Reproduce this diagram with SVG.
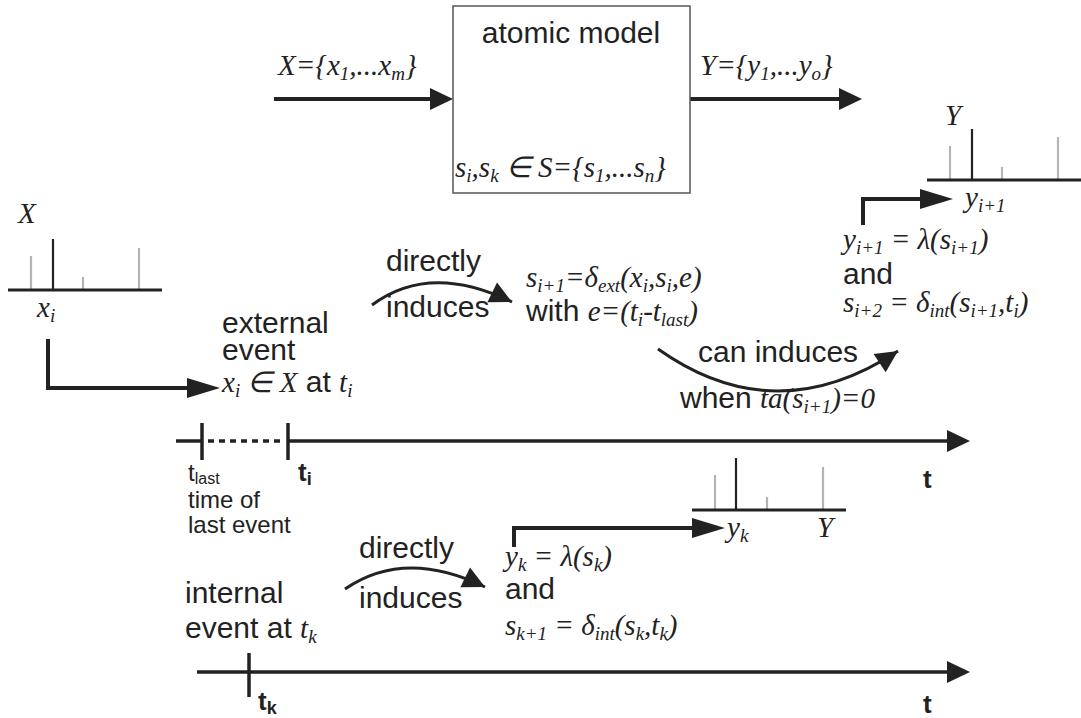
<svg xmlns="http://www.w3.org/2000/svg" width="1081" height="718" viewBox="0 0 1081 718">
<style>
.a{font-family:"Liberation Sans",Arial,sans-serif;font-size:30px;fill:#222}
.m{font-family:"Liberation Serif","Times New Roman",serif;font-style:italic;font-size:29px;fill:#222}
.sb{font-size:19px}
.sm{font-family:"Liberation Sans",Arial,sans-serif;font-size:24px;fill:#222}
.sm2{font-size:16px}
.b{font-family:"Liberation Sans",Arial,sans-serif;font-weight:bold;font-size:26px;fill:#222}
.bs{font-size:18px}
.ln{fill:none;stroke:#222;stroke-width:4}
.tl{fill:none;stroke:#222;stroke-width:3.5}
.arc{fill:none;stroke:#222;stroke-width:3}
.ax{stroke:#222;stroke-width:3}
.sk{stroke:#222;stroke-width:2.2}
.gs{stroke:#b4b4b4;stroke-width:2.2}
</style>
<defs>
<marker id="ah" markerUnits="userSpaceOnUse" markerWidth="24" markerHeight="22" refX="13" refY="11" orient="auto" overflow="visible"><path d="M0,0 L23,11 L0,22 z" fill="#222"/></marker>
<marker id="ahl" markerUnits="userSpaceOnUse" markerWidth="34" markerHeight="20" refX="23" refY="10" orient="auto" overflow="visible"><path d="M0,0 L33,10 L0,20 z" fill="#222"/></marker>
<marker id="ahc" markerUnits="userSpaceOnUse" markerWidth="24" markerHeight="24" refX="22" refY="11" orient="auto" overflow="visible"><path d="M0,0 L22,11 L0,22 z" fill="#222"/></marker>
</defs>
<rect width="1081" height="718" fill="#fff"/>

<g id="connectors">
<path class="ln" d="M274,99 L443,99" marker-end="url(#ah)"/>
<path class="ln" d="M690,99 L852,99" marker-end="url(#ah)"/>
<path class="ln" d="M48,339 L48,388 L210,388" marker-end="url(#ahl)"/>
<path class="ln" d="M863,225 L863,199 L943,199" marker-end="url(#ahl)"/>
<path class="ln" d="M514,547 L514,528 L715,528" marker-end="url(#ahl)"/>
<path class="arc" d="M372,305 Q430,262 512,302" marker-end="url(#ahc)"/>
<path class="arc" d="M345,589 Q405,548 485,587" marker-end="url(#ahc)"/>
<path class="arc" d="M658,349 Q775,432 898,351" marker-end="url(#ahc)"/>
</g>

<g id="atomic-model">
<rect x="453" y="6" width="237" height="187" fill="#fff" stroke="#555" stroke-width="1.5"/>
<text class="a" x="571" y="43" text-anchor="middle">atomic model</text>
<text class="m" x="455" y="177">s<tspan class="sb" dy="5">i</tspan><tspan dy="-5">,s</tspan><tspan class="sb" dy="5">k</tspan><tspan dy="-5"> ∈ S={s</tspan><tspan class="sb" dy="5">1</tspan><tspan dy="-5">,...s</tspan><tspan class="sb" dy="5">n</tspan><tspan dy="-5">}</tspan></text>
</g>

<g id="input-label">
<text class="m" x="278" y="75">X={x<tspan class="sb" dy="5">1</tspan><tspan dy="-5">,...x</tspan><tspan class="sb" dy="5">m</tspan><tspan dy="-5">}</tspan></text>
</g>
<g id="output-label">
<text class="m" x="700" y="75">Y={y<tspan class="sb" dy="5">1</tspan><tspan dy="-5">,...y</tspan><tspan class="sb" dy="5">o</tspan><tspan dy="-5">}</tspan></text>
</g>

<g id="x-plot">
<text class="m" x="18" y="223">X</text>
<line class="gs" x1="31" y1="256" x2="31" y2="290"/>
<line class="sk" x1="53" y1="239" x2="53" y2="290"/>
<line class="gs" x1="83" y1="277" x2="83" y2="290"/>
<line class="gs" x1="139" y1="248" x2="139" y2="290"/>
<line class="ax" x1="8" y1="290" x2="162" y2="290"/>
<text class="m" x="37" y="317">x<tspan class="sb" dy="5">i</tspan></text>
</g>

<g id="y-plot-top">
<text class="m" x="945" y="125">Y</text>
<line class="gs" x1="950" y1="146" x2="950" y2="180"/>
<line class="sk" x1="972" y1="129" x2="972" y2="180"/>
<line class="gs" x1="1002" y1="167" x2="1002" y2="180"/>
<line class="gs" x1="1058" y1="137" x2="1058" y2="180"/>
<line class="ax" x1="927" y1="180" x2="1081" y2="180"/>
<text class="m" x="965" y="207">y<tspan class="sb" dy="5">i+1</tspan></text>
</g>

<g id="y-plot-bottom">
<line class="gs" x1="715" y1="475" x2="715" y2="510"/>
<line class="sk" x1="736" y1="458" x2="736" y2="510"/>
<line class="gs" x1="767" y1="497" x2="767" y2="510"/>
<line class="gs" x1="823" y1="467" x2="823" y2="510"/>
<line class="ax" x1="692" y1="510" x2="846" y2="510"/>
<text class="m" x="727" y="537">y<tspan class="sb" dy="5">k</tspan></text>
<text class="m" x="817" y="537">Y</text>
</g>

<g id="external-event">
<text class="a" x="222" y="333">external</text>
<text class="a" x="222" y="360">event</text>
<text class="a" x="222" y="392"><tspan class="m">x<tspan class="sb" dy="5">i</tspan><tspan dy="-5"> ∈ X</tspan></tspan> at <tspan class="m">t<tspan class="sb" dy="5">i</tspan></tspan></text>
</g>

<g id="directly-induces-1">
<text class="a" x="386" y="271">directly</text>
<text class="a" x="386" y="317">induces</text>
</g>

<g id="delta-ext">
<text class="m" x="526" y="287">s<tspan class="sb" dy="5">i+1</tspan><tspan dy="-5">=δ</tspan><tspan class="sb" dy="5">ext</tspan><tspan dy="-5">(x</tspan><tspan class="sb" dy="5">i</tspan><tspan dy="-5">,s</tspan><tspan class="sb" dy="5">i</tspan><tspan dy="-5">,e)</tspan></text>
<text class="a" x="526" y="321">with <tspan class="m">e=(t<tspan class="sb" dy="5">i</tspan><tspan dy="-5">-t</tspan><tspan class="sb" dy="5">last</tspan><tspan dy="-5">)</tspan></tspan></text>
</g>

<g id="can-induces">
<text class="a" x="698" y="362">can induces</text>
<text class="a" x="680" y="408">when <tspan class="m">ta(s<tspan class="sb" dy="5">i+1</tspan><tspan dy="-5">)=0</tspan></tspan></text>
</g>

<g id="output-int-1">
<text class="m" x="843" y="249">y<tspan class="sb" dy="5">i+1</tspan><tspan dy="-5"> = λ(s</tspan><tspan class="sb" dy="5">i+1</tspan><tspan dy="-5">)</tspan></text>
<text class="a" x="843" y="284">and</text>
<text class="m" x="843" y="312">s<tspan class="sb" dy="5">i+2</tspan><tspan dy="-5"> = δ</tspan><tspan class="sb" dy="5">int</tspan><tspan dy="-5">(s</tspan><tspan class="sb" dy="5">i+1</tspan><tspan dy="-5">,t</tspan><tspan class="sb" dy="5">i</tspan><tspan dy="-5">)</tspan></text>
</g>

<g id="timeline-1">
<path class="tl" d="M176,441 L203,441"/>
<path class="tl" d="M208,441 L285,441" stroke-dasharray="6,5"/>
<path class="tl" d="M288,441 L960,441" marker-end="url(#ah)"/>
<line class="tl" x1="202" y1="423" x2="202" y2="460" stroke-width="3"/>
<line class="tl" x1="288" y1="423" x2="288" y2="460" stroke-width="3"/>
<text class="sm" x="188" y="481">t<tspan class="sm2" dy="3">last</tspan></text>
<text class="sm" x="188" y="508">time of</text>
<text class="sm" x="188" y="533">last event</text>
<text class="b" x="298" y="481">t<tspan class="bs" dy="4">i</tspan></text>
<text class="b" x="923" y="488">t</text>
</g>

<g id="directly-induces-2">
<text class="a" x="359" y="558">directly</text>
<text class="a" x="359" y="608">induces</text>
</g>

<g id="output-int-2">
<text class="m" x="505" y="566">y<tspan class="sb" dy="5">k</tspan><tspan dy="-5"> = λ(s</tspan><tspan class="sb" dy="5">k</tspan><tspan dy="-5">)</tspan></text>
<text class="a" x="505" y="599">and</text>
<text class="m" x="505" y="635">s<tspan class="sb" dy="5">k+1</tspan><tspan dy="-5"> = δ</tspan><tspan class="sb" dy="5">int</tspan><tspan dy="-5">(s</tspan><tspan class="sb" dy="5">k</tspan><tspan dy="-5">,t</tspan><tspan class="sb" dy="5">k</tspan><tspan dy="-5">)</tspan></text>
</g>

<g id="internal-event">
<text class="a" x="185" y="603">internal</text>
<text class="a" x="185" y="638">event at <tspan class="m">t<tspan class="sb" dy="5">k</tspan></tspan></text>
</g>

<g id="timeline-2">
<path class="tl" d="M197,672 L960,672" marker-end="url(#ah)"/>
<line class="tl" x1="249" y1="653" x2="249" y2="697" stroke-width="3"/>
<text class="b" x="258" y="710">t<tspan class="bs" dy="4">k</tspan></text>
<text class="b" x="923" y="713">t</text>
</g>
</svg>
